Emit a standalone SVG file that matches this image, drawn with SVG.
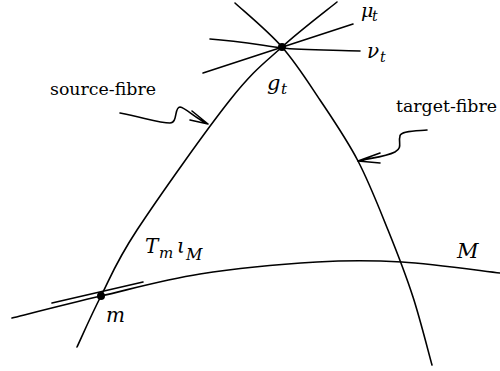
<svg xmlns="http://www.w3.org/2000/svg" width="500" height="371" viewBox="0 0 500 371">
<style>
.c{fill:none;stroke:#000;stroke-width:1.6;stroke-linecap:round;stroke-linejoin:round}
.s{font-family:"DejaVu Serif","Liberation Serif",serif}
.i{font-style:italic}
</style>
<rect width="500" height="371" fill="#fff"/>
<g id="connectors">
<path id="source-fibre-line" class="c" d="M337,2 C327.8,9.5 299.8,30.7 282,47 C264.2,63.3 254.2,69.5 230,100 C205.8,130.5 158.5,197.3 137,230 C115.5,262.7 111,276.5 101,296 C91,315.5 81,338.5 77,347"/>
<path id="target-fibre-line" class="c" d="M235,3 C242.8,10.3 267.8,30.8 282,47 C296.2,63.2 307.3,81 320,100 C332.7,119 346.7,139.3 358,161 C369.3,182.7 378.8,207.3 388,230 C397.2,252.7 405.7,274.5 413,297 C420.3,319.5 428.8,353.7 432,365"/>
<path id="M-curve" class="c" d="M12,318 C26.8,314.3 69.7,303.3 101,296 C132.3,288.7 164,279.7 200,274 C236,268.3 283.3,264 317,262 C350.7,260 371.5,260.2 402,262 C432.5,263.8 483.7,271.2 500,273"/>
<path id="mu-line" class="c" d="M203,73 L353,24"/>
<path id="nu-line" class="c" d="M210,39 C240,41 265,46 282,48 C300,50 330,50 360,51"/>
<path id="tangent" class="c" d="M52,303 L143,282"/>
<path id="source-arrow" class="c" d="M120,113 C145,118 160,123 170,123 C178,123 174,107 180,107 C186,108 195,118 208,124 M192,111 L208,124 L190,120"/>
<path id="target-arrow" class="c" d="M427,130 C415,131 400,131 400,136 C398,142 403,148 395,152 C385,157 370,158 358,161 M380,153 L358,161 L380,163"/>
</g>
<g id="g-node">
<circle cx="282" cy="47" r="4" fill="#000"/>
<text class="s i" x="267" y="90" font-size="21">g</text><text class="s i" x="281" y="94" font-size="15">t</text>
</g>
<g id="m-node">
<circle cx="101" cy="296" r="4" fill="#000"/>
<text class="s i" x="106" y="322" font-size="20">m</text>
</g>
<g id="labels">
<text class="s i" x="361" y="17" font-size="19">μ</text><text class="s i" x="372" y="21" font-size="14">t</text>
<text class="s i" x="367" y="58" font-size="20">ν</text><text class="s i" x="380" y="62" font-size="14">t</text>
<text class="s" x="50" y="95" font-size="17" textLength="106" lengthAdjust="spacingAndGlyphs">source-fibre</text>
<text class="s" x="396" y="112" font-size="17" textLength="101" lengthAdjust="spacingAndGlyphs">target-fibre</text>
<text class="s i" x="145" y="253" font-size="20">T</text><text class="s i" x="159" y="258" font-size="15">m</text><text class="s i" x="177" y="253" font-size="20">ι</text><text class="s i" x="186" y="260" font-size="16">M</text>
<text class="s i" x="457" y="258" font-size="21">M</text>
</g>
</svg>
